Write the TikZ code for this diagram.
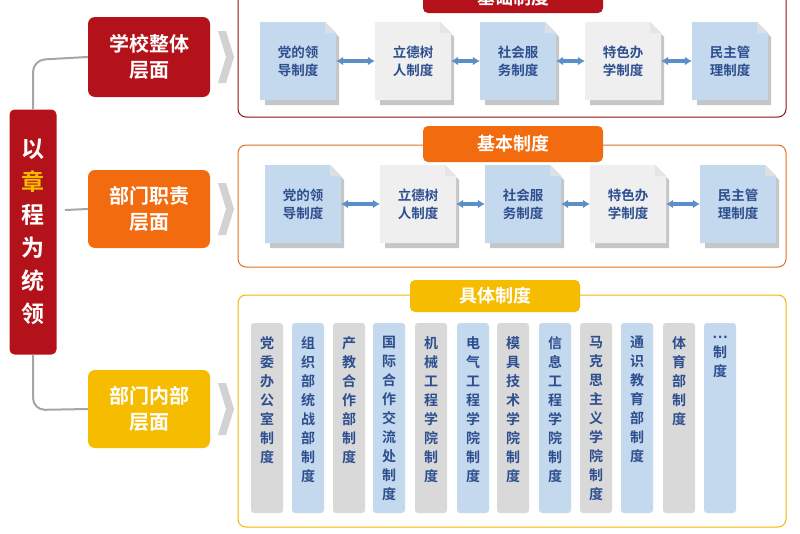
\documentclass[tikz,border=0pt]{standalone}
\usepackage{fontspec}
\setmainfont{Noto Sans CJK SC}[BoldFont={Noto Sans CJK SC Bold}]
\usetikzlibrary{arrows.meta}
\definecolor{dred}{HTML}{B3121A}
\definecolor{ora}{HTML}{F26B0F}
\definecolor{gold}{HTML}{F5BC00}
\definecolor{lblue}{HTML}{C5D9EE}
\definecolor{lgray}{HTML}{EFEFEF}
\definecolor{cgray}{HTML}{D9D9D9}
\definecolor{tblue}{HTML}{2E4F8F}
\definecolor{abl}{HTML}{5B8FC7}
\begin{document}
\begin{tikzpicture}[x=1pt,y=-1pt,
  lvl/.style={rounded corners=7pt,text=white,font=\fontsize{20}{26}\selectfont\bfseries,align=center,draw=none},
  ttl/.style={rounded corners=5pt,text=white,font=\fontsize{18}{20}\selectfont\bfseries,minimum width=180pt,minimum height=36pt},
  frm/.style={rounded corners=8pt,line width=1pt},
  dtxt/.style={text=tblue,font=\fontsize{13.5}{18}\selectfont\bfseries,align=center},
  ctxt/.style={text=tblue,font=\fontsize{14}{19}\selectfont\bfseries,align=center,anchor=north},
  dar/.style={{Latex[length=7pt,width=9pt]}-{Latex[length=7pt,width=9pt]},line width=3.5pt,abl},
  brk/.style={gray!70,line width=2pt,rounded corners=12pt}]
\useasboundingbox (0,0) rectangle (800,533);
\fill[white] (0,0) rectangle (800,533);
% left main
\node[fill=dred,rounded corners=5pt,minimum width=47pt,minimum height=245pt,inner sep=0pt,
  font=\fontsize{23}{33}\selectfont\bfseries,text=white,align=center] (main) at (33,232)
  {以\\\textcolor{gold}{章}\\程\\为\\统\\领};
% level boxes
\node[lvl,fill=dred,minimum width=122pt,minimum height=80pt] (l1) at (149,57) {学校整体\\层面};
\node[lvl,fill=ora,minimum width=122pt,minimum height=78pt] (l2) at (149,209) {部门职责\\层面};
\node[lvl,fill=gold,minimum width=122pt,minimum height=78pt] (l3) at (149,409) {部门内部\\层面};
\draw[brk] (main.north) -- (33,60) -- (l1.west);
\draw[gray!70,line width=2pt] (65,210) -- (l2.west);
\draw[brk] (main.south) -- (33,410) -- (l3.west);
% chevrons
\foreach \y in {57,209,409}{\fill[gray!35] (218,\y-26) -- (226,\y-26) -- (234,\y) -- (226,\y+26) -- (218,\y+26) -- (226,\y) -- cycle;}
% frames
\draw[frm,draw=dred!80!black] (238,-20) rectangle (786,117);
\node[ttl,fill=dred,minimum height=30pt] (t1) at (513,-2) {基础制度};
\draw[frm,draw=ora!70!brown] (238,145) rectangle (786,267);
\node[ttl,fill=ora] (t2) at (513,144) {基本制度};
\draw[frm,draw=gold!90!orange] (238,295) rectangle (786,527);
\node[ttl,fill=gold,minimum width=170pt,minimum height=32pt] (t3) at (495,296) {具体制度};
% document boxes
\newcommand{\docbox}[5]{% name, x, y, color, text
  \fill[gray!45] (#2-36,#3-37) ++(3,3) -- ++(64,0) -- ++(10,10) -- ++(0,68) -- ++(-74,0) -- cycle;
  \fill[#4] (#2-38,#3-39) -- (#2+27,#3-39) -- (#2+38,#3-28) -- (#2+38,#3+39) -- (#2-38,#3+39) -- cycle;
  \fill[#4!70!black!30] (#2+27,#3-39) -- (#2+27,#3-28) -- (#2+38,#3-28) -- cycle;
  \node[dtxt,minimum width=76pt,minimum height=78pt] (#1) at (#2,#3) {#5};}
\docbox{a1}{298}{61}{lblue}{党的领\\导制度}
\docbox{a2}{413}{61}{lgray}{立德树\\人制度}
\docbox{a3}{518}{61}{lblue}{社会服\\务制度}
\docbox{a4}{623}{61}{lgray}{特色办\\学制度}
\docbox{a5}{730}{61}{lblue}{民主管\\理制度}
\docbox{b1}{303}{204}{lblue}{党的领\\导制度}
\docbox{b2}{418}{204}{lgray}{立德树\\人制度}
\docbox{b3}{523}{204}{lblue}{社会服\\务制度}
\docbox{b4}{628}{204}{lgray}{特色办\\学制度}
\docbox{b5}{738}{204}{lblue}{民主管\\理制度}
\foreach \r in {a,b}{
  \draw[dar] (\r1.east) -- (\r2.west);
  \draw[dar] (\r2.east) -- (\r3.west);
  \draw[dar] (\r3.east) -- (\r4.west);
  \draw[dar] (\r4.east) -- (\r5.west);}
% columns
\newcommand{\colbox}[4]{% name, x, color, text
  \fill[#3,rounded corners=3pt] (#2-16,323) rectangle (#2+16,513);
  \node[ctxt,inner sep=0pt] (#1) at (#2,336) {#4};}
\colbox{c1}{267}{cgray}{党\\委\\办\\公\\室\\制\\度}
\colbox{c2}{308}{lblue}{组\\织\\部\\统\\战\\部\\制\\度}
\colbox{c3}{349}{cgray}{产\\教\\合\\作\\部\\制\\度}
\colbox{c4}{389}{lblue}{国\\际\\合\\作\\交\\流\\处\\制\\度}
\colbox{c5}{431}{cgray}{机\\械\\工\\程\\学\\院\\制\\度}
\colbox{c6}{473}{lblue}{电\\气\\工\\程\\学\\院\\制\\度}
\colbox{c7}{513}{cgray}{模\\具\\技\\术\\学\\院\\制\\度}
\colbox{c8}{555}{lblue}{信\\息\\工\\程\\学\\院\\制\\度}
\colbox{c9}{596}{cgray}{马\\克\\思\\主\\义\\学\\院\\制\\度}
\colbox{c10}{637}{lblue}{通\\识\\教\\育\\部\\制\\度}
\colbox{c11}{679}{cgray}{体\\育\\部\\制\\度}
\colbox{c12}{720}{lblue}{…\\制\\度}
\end{tikzpicture}
\end{document}
